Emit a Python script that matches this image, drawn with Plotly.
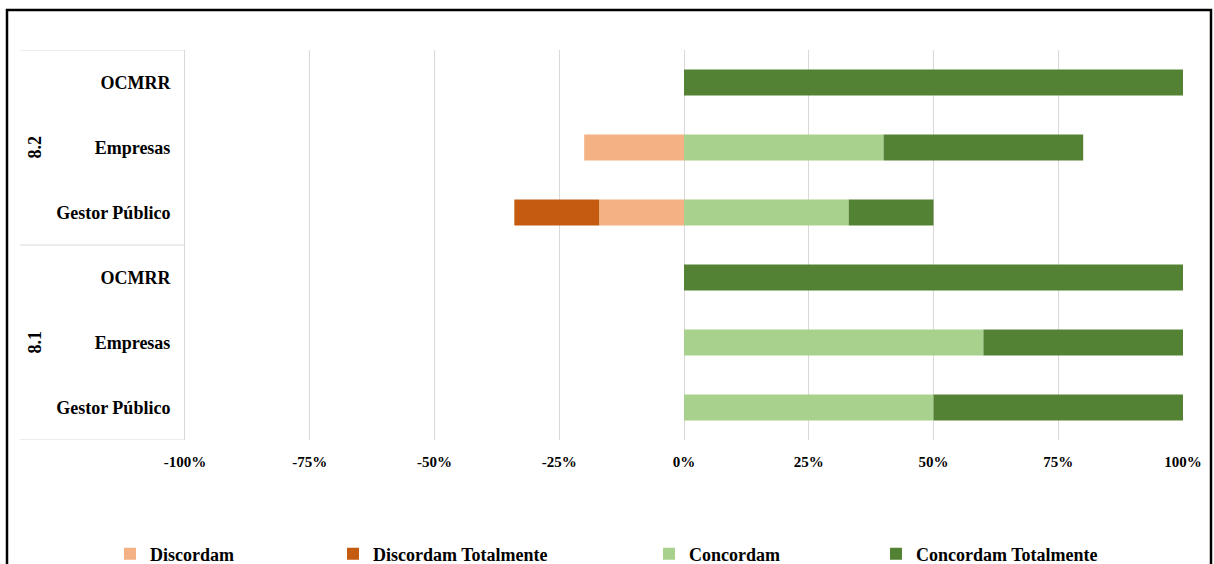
import plotly.graph_objects as go

# Survey responses per item (8.1 / 8.2) and respondent group, in percent
groups = ["8.1", "8.1", "8.1", "8.2", "8.2", "8.2"]
respondents = ["Gestor Público", "Empresas", "OCMRR", "Gestor Público", "Empresas", "OCMRR"]

discordam = [0, 0, 0, -17, -20, 0]
discordam_totalmente = [0, 0, 0, -17, 0, 0]
concordam = [50, 60, 0, 33, 40, 0]
concordam_totalmente = [50, 40, 100, 17, 40, 100]

x_ticks = [-100, -75, -50, -25, 0, 25, 50, 75, 100]
x_ticktext = [f"{v}%" for v in x_ticks]

FONT = "Liberation Serif, Times New Roman, serif"
pos = list(range(len(respondents)))

series = [
    ("Discordam", discordam, "#F4B183", "legend"),
    ("Discordam Totalmente", discordam_totalmente, "#C55A11", "legend2"),
    ("Concordam", concordam, "#A9D18E", "legend3"),
    ("Concordam Totalmente", concordam_totalmente, "#548235", "legend4"),
]

fig = go.Figure()
for name, vals, color, leg in series:
    fig.add_trace(go.Bar(
        x=vals, y=pos, name=name, orientation="h",
        marker=dict(color=color, line=dict(width=0)),
        width=0.4, legend=leg,
        hovertemplate="%{x}%<extra>" + name + "</extra>",
    ))

# figure and plot-area geometry in pixels
FW, FH = 1214, 564
L, T, W, H = 185, 50, 998, 390


def px_x(p):
    return (p - L) / W


def px_y(p):
    return (T + H - p) / H


legend_font = dict(family=FONT, size=18, color="black", weight="bold")
legend_text_x = [150, 373, 689, 916]
legend_cfg = {}
for key, tx in zip(["legend", "legend2", "legend3", "legend4"], legend_text_x):
    legend_cfg[key] = dict(
        xref="container", yref="container",
        x=(tx - 40) / FW, y=(FH - 554) / FH, xanchor="left", yanchor="middle",
        orientation="h", font=legend_font, bgcolor="rgba(0,0,0,0)",
        borderwidth=0, itemwidth=30,
    )

shapes = []
# category-axis dividers
for yv in [-0.5, 2.5, 5.5]:
    shapes.append(dict(type="line", xref="paper", yref="y",
                       x0=px_x(20), x1=0, y0=yv, y1=yv,
                       line=dict(color="#D9D9D9", width=1)))
# outer frame
shapes.append(dict(type="rect", xref="paper", yref="paper",
                   x0=px_x(7), x1=px_x(1211), y0=px_y(10), y1=px_y(640),
                   line=dict(color="black", width=2.5), fillcolor="rgba(0,0,0,0)"))

annotations = []
for g in sorted(set(groups)):
    idx = [i for i, v in enumerate(groups) if v == g]
    annotations.append(dict(
        text=g, xref="paper", yref="y", x=px_x(34), y=sum(idx) / len(idx),
        xanchor="center", yanchor="middle",
        showarrow=False, textangle=-90,
        font=dict(family=FONT, size=18, color="black", weight="bold"),
    ))

fig.update_layout(
    width=FW, height=FH,
    margin=dict(l=L, r=FW - L - W, t=T, b=FH - T - H, autoexpand=False),
    barmode="relative",
    paper_bgcolor="white", plot_bgcolor="white",
    showlegend=True,
    font=dict(family=FONT),
    shapes=shapes, annotations=annotations,
    **legend_cfg,
)
fig.update_xaxes(
    range=[-100, 100], tickvals=x_ticks, ticktext=x_ticktext,
    showgrid=True, gridcolor="#D9D9D9", gridwidth=1, zeroline=False,
    showline=False, ticks="", ticklabelstandoff=11, automargin=False,
    tickfont=dict(family=FONT, size=15, color="black", weight="bold"),
)
fig.update_yaxes(
    range=[-0.5, 5.5], tickvals=pos, ticktext=respondents,
    showgrid=False, zeroline=False, showline=True, linecolor="#D9D9D9",
    linewidth=1, ticks="", ticklabelstandoff=10, automargin=False,
    tickfont=dict(family=FONT, size=18, color="black", weight="bold"),
)

fig.write_html("out.html")
